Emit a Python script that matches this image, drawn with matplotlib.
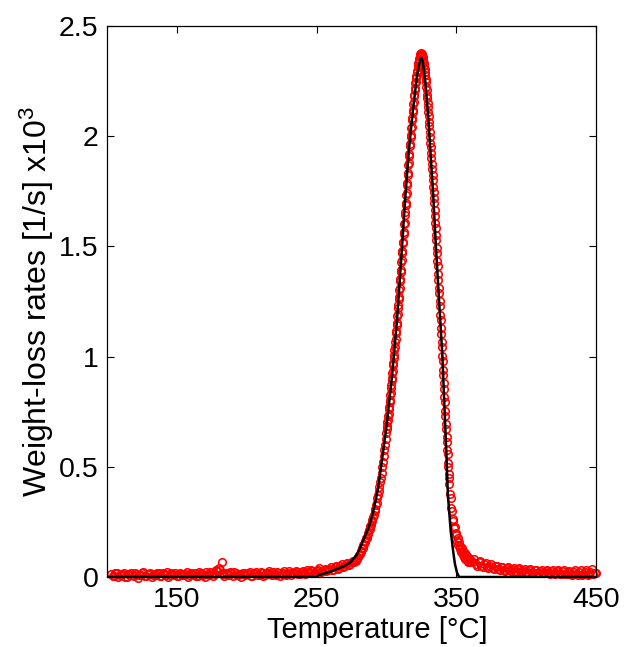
import numpy as np
import matplotlib
matplotlib.use("Agg")
import matplotlib.pyplot as plt

plt.rcParams['font.family'] = ['Liberation Sans', 'DejaVu Sans']
plt.rcParams['mathtext.default'] = 'regular'

# ---------------- measured weight-loss rates (red circles) ----------------
# baseline, 103..279 degC every 2 degC
meas_a_start, meas_a_step = 103.0, 2.0
meas_a = [0.012, 0.004, 0.018, 0.008, 0.015, 0.002, 0.012, 0.020, 0.006, 0.014,
          0.009, 0.017, 0.003, 0.013, 0.019, 0.007, 0.011, 0.016, 0.004, 0.014,
          0.021, 0.008, 0.012, 0.018, 0.005, 0.015, 0.010, 0.022, 0.007, 0.013,
          0.019, 0.006, 0.016, 0.011, 0.023, 0.008, 0.017, 0.012, 0.026, 0.030,
          0.012, 0.020, 0.009, 0.016, 0.024, 0.007, 0.015, 0.020, 0.010, 0.018,
          0.006, 0.016, 0.022, 0.011, 0.017, 0.008, 0.020, 0.013, 0.024, 0.010,
          0.018, 0.014, 0.025, 0.012, 0.020, 0.016, 0.027, 0.013, 0.022, 0.018,
          0.030, 0.016, 0.026, 0.021, 0.032, 0.022, 0.034, 0.028, 0.038, 0.032,
          0.044, 0.038, 0.050, 0.045, 0.058, 0.053, 0.068, 0.066, 0.082]
# baseline, second sweep, 104..278 every 2 degC
meas_a2_start, meas_a2_step = 104.0, 2.0
meas_a2 = [0.006, 0.016, -0.002, 0.010, 0.020, 0.001, 0.013, 0.008, 0.018, -0.003,
           0.011, 0.021, 0.005, 0.015, 0.000, 0.012, 0.019, 0.004, 0.016, 0.009,
           -0.002, 0.017, 0.011, 0.003, 0.020, 0.008, 0.014, -0.001, 0.018, 0.010,
           0.004, 0.021, 0.013, 0.002, 0.015, 0.022, 0.006, 0.033, 0.041, 0.018,
           0.004, 0.014, 0.024, 0.003, 0.017, 0.011, 0.002, 0.019, 0.012, 0.023,
           0.005, 0.015, 0.009, 0.021, 0.003, 0.016, 0.026, 0.007, 0.014, 0.022,
           0.006, 0.019, 0.011, 0.028, 0.009, 0.017, 0.024, 0.012, 0.029, 0.015,
           0.022, 0.034, 0.018, 0.027, 0.040, 0.025, 0.036, 0.030, 0.046, 0.034,
           0.048, 0.042, 0.057, 0.050, 0.063, 0.060, 0.074, 0.072]
# isolated outlier
meas_out_t = [182.5]
meas_out_v = [0.066]
# rising flank, 280..299.5 every 0.5
meas_b_start, meas_b_step = 280.0, 0.5
meas_b = [0.092, 0.101, 0.104, 0.115, 0.118, 0.130, 0.132, 0.146, 0.148, 0.160,
          0.163, 0.176, 0.178, 0.193, 0.198, 0.212, 0.218, 0.232, 0.238, 0.252,
          0.258, 0.274, 0.283, 0.300, 0.308, 0.326, 0.338, 0.357, 0.372, 0.392,
          0.408, 0.430, 0.448, 0.474, 0.497, 0.522, 0.548, 0.574, 0.600, 0.628]
# peak, 300..344.75 every 0.25
meas_c_start, meas_c_step = 300.0, 0.25
meas_c = [0.655, 0.672, 0.683, 0.703, 0.712, 0.732, 0.741, 0.763, 0.772, 0.793,
          0.804, 0.826, 0.836, 0.858, 0.869, 0.892, 0.902, 0.924, 0.936, 0.960,
          0.972, 0.995, 1.006, 1.032, 1.043, 1.068, 1.079, 1.106, 1.117, 1.143,
          1.154, 1.182, 1.193, 1.221, 1.232, 1.262, 1.272, 1.302, 1.312, 1.343,
          1.352, 1.384, 1.395, 1.428, 1.437, 1.470, 1.480, 1.514, 1.522, 1.556,
          1.566, 1.601, 1.608, 1.644, 1.654, 1.690, 1.698, 1.735, 1.744, 1.780,
          1.788, 1.824, 1.834, 1.870, 1.878, 1.912, 1.921, 1.956, 1.963, 1.995,
          2.004, 2.036, 2.043, 2.072, 2.081, 2.111, 2.118, 2.145, 2.154, 2.181,
          2.188, 2.210, 2.218, 2.241, 2.248, 2.266, 2.273, 2.292, 2.298, 2.314,
          2.319, 2.334, 2.338, 2.350, 2.352, 2.362, 2.364, 2.371, 2.370, 2.376,
          2.374, 2.374, 2.368, 2.366, 2.358, 2.352, 2.340, 2.332, 2.318, 2.306,
          2.290, 2.276, 2.258, 2.244, 2.224, 2.209, 2.188, 2.172, 2.150, 2.132,
          2.108, 2.090, 2.065, 2.045, 2.018, 1.998, 1.970, 1.950, 1.923, 1.902,
          1.873, 1.852, 1.823, 1.800, 1.771, 1.748, 1.718, 1.695, 1.663, 1.640,
          1.608, 1.584, 1.551, 1.527, 1.493, 1.468, 1.433, 1.409, 1.373, 1.348,
          1.313, 1.289, 1.253, 1.228, 1.191, 1.167, 1.128, 1.104, 1.066, 1.042,
          1.003, 0.980, 0.941, 0.917, 0.878, 0.855, 0.816, 0.793, 0.753, 0.732,
          0.693, 0.672, 0.633, 0.613, 0.576, 0.556, 0.518, 0.500, 0.467, 0.451]
# falling flank / tail, 345..360 every 0.5
meas_d_start, meas_d_step = 345.0, 0.5
meas_d = [0.420, 0.375, 0.360, 0.315, 0.300, 0.262, 0.256, 0.222, 0.226, 0.190,
          0.200, 0.165, 0.175, 0.145, 0.158, 0.126, 0.142, 0.112, 0.130, 0.100,
          0.120, 0.090, 0.110, 0.082, 0.102, 0.076, 0.095, 0.070, 0.088, 0.066,
          0.082]
# tail, 362..450 every 2
meas_e_start, meas_e_step = 362.0, 2.0
meas_e = [0.070, 0.058, 0.066, 0.050, 0.058, 0.044, 0.052, 0.040, 0.048, 0.036,
          0.044, 0.033, 0.042, 0.030, 0.038, 0.028, 0.036, 0.026, 0.034, 0.024,
          0.032, 0.022, 0.030, 0.020, 0.029, 0.019, 0.028, 0.017, 0.027, 0.016,
          0.026, 0.015, 0.025, 0.014, 0.024, 0.013, 0.023, 0.012, 0.022, 0.011,
          0.022, 0.010, 0.021, 0.012, 0.020]
# tail, second sweep, 363..449 every 2
meas_e2_start, meas_e2_step = 363.0, 2.0
meas_e2 = [0.080, 0.052, 0.072, 0.046, 0.064, 0.040, 0.058, 0.036, 0.052, 0.032,
           0.047, 0.029, 0.044, 0.026, 0.041, 0.024, 0.039, 0.022, 0.037, 0.020,
           0.035, 0.019, 0.034, 0.018, 0.033, 0.016, 0.032, 0.015, 0.031, 0.014,
           0.030, 0.013, 0.030, 0.012, 0.029, 0.011, 0.030, 0.010, 0.031, 0.012,
           0.033, 0.014, 0.036, 0.018]

# ---------------- model fit (black line) ----------------
fit_t = [100, 250, 252, 256, 260, 266, 270, 274, 278, 280, 283, 287, 290, 294,
         297, 300, 304, 307.5, 311, 313.5, 316, 319, 322, 324, 325, 326, 328,
         330, 332, 333.5, 335.5, 338, 340, 342, 343, 344, 346, 347.7, 349,
         350.5, 352, 450]
fit_v = [0.0, 0.0, 0.01, 0.017, 0.025, 0.04, 0.05, 0.065, 0.095, 0.115, 0.16,
         0.22, 0.28, 0.40, 0.54, 0.68, 0.91, 1.16, 1.48, 1.72, 1.93, 2.12, 2.28,
         2.345, 2.355, 2.34, 2.24, 2.08, 1.88, 1.73, 1.49, 1.22, 1.01, 0.70,
         0.55, 0.37, 0.21, 0.12, 0.06, 0.02, 0.0, 0.0]

x_ticks = [150, 250, 350, 450]
y_ticks = [0, 0.5, 1, 1.5, 2, 2.5]
y_tick_labels = ['0', '0.5', '1', '1.5', '2', '2.5']


def grid(start, step, vals):
    return start + step * np.arange(len(vals))


meas_t = np.concatenate([grid(meas_a_start, meas_a_step, meas_a),
                         grid(meas_a2_start, meas_a2_step, meas_a2), meas_out_t,
                         grid(meas_b_start, meas_b_step, meas_b),
                         grid(meas_c_start, meas_c_step, meas_c),
                         grid(meas_d_start, meas_d_step, meas_d),
                         grid(meas_e_start, meas_e_step, meas_e),
                         grid(meas_e2_start, meas_e2_step, meas_e2)])
meas_v = np.concatenate([meas_a, meas_a2, meas_out_v, meas_b, meas_c, meas_d,
                         meas_e, meas_e2])

fig = plt.figure(figsize=(6.26, 6.47), dpi=100)
ax = fig.add_axes([107 / 626, 1 - 577 / 647, (596 - 107) / 626, (577 - 26) / 647])

ax.plot(meas_t, meas_v, linestyle='none', marker='o', markersize=5.4,
        markerfacecolor='none', markeredgecolor='#ff0000', markeredgewidth=1.15,
        clip_on=False, zorder=2)
ax.plot(fit_t, fit_v, color='black', linewidth=1.8, zorder=3)

ax.set_xlim(100, 450)
ax.set_ylim(0, 2.5)
ax.set_xticks(x_ticks)
ax.set_yticks(y_ticks)
ax.set_yticklabels(y_tick_labels)
ax.tick_params(direction='in', top=True, right=True, length=5, width=0.8,
               labelsize=20.5)
ax.tick_params(axis='x', pad=7)
ax.tick_params(axis='y', pad=6)
for s in ax.spines.values():
    s.set_linewidth(0.9)

ax.set_xlabel('Temperature [°C]', fontsize=21)
ax.xaxis.set_label_coords(0.553, -0.070)
ax.set_ylabel('Weight-loss rates [1/s] x10$^3$', fontsize=23)
ax.yaxis.set_label_coords(-0.105, 0.5)

fig.savefig('out.png', dpi=100)
